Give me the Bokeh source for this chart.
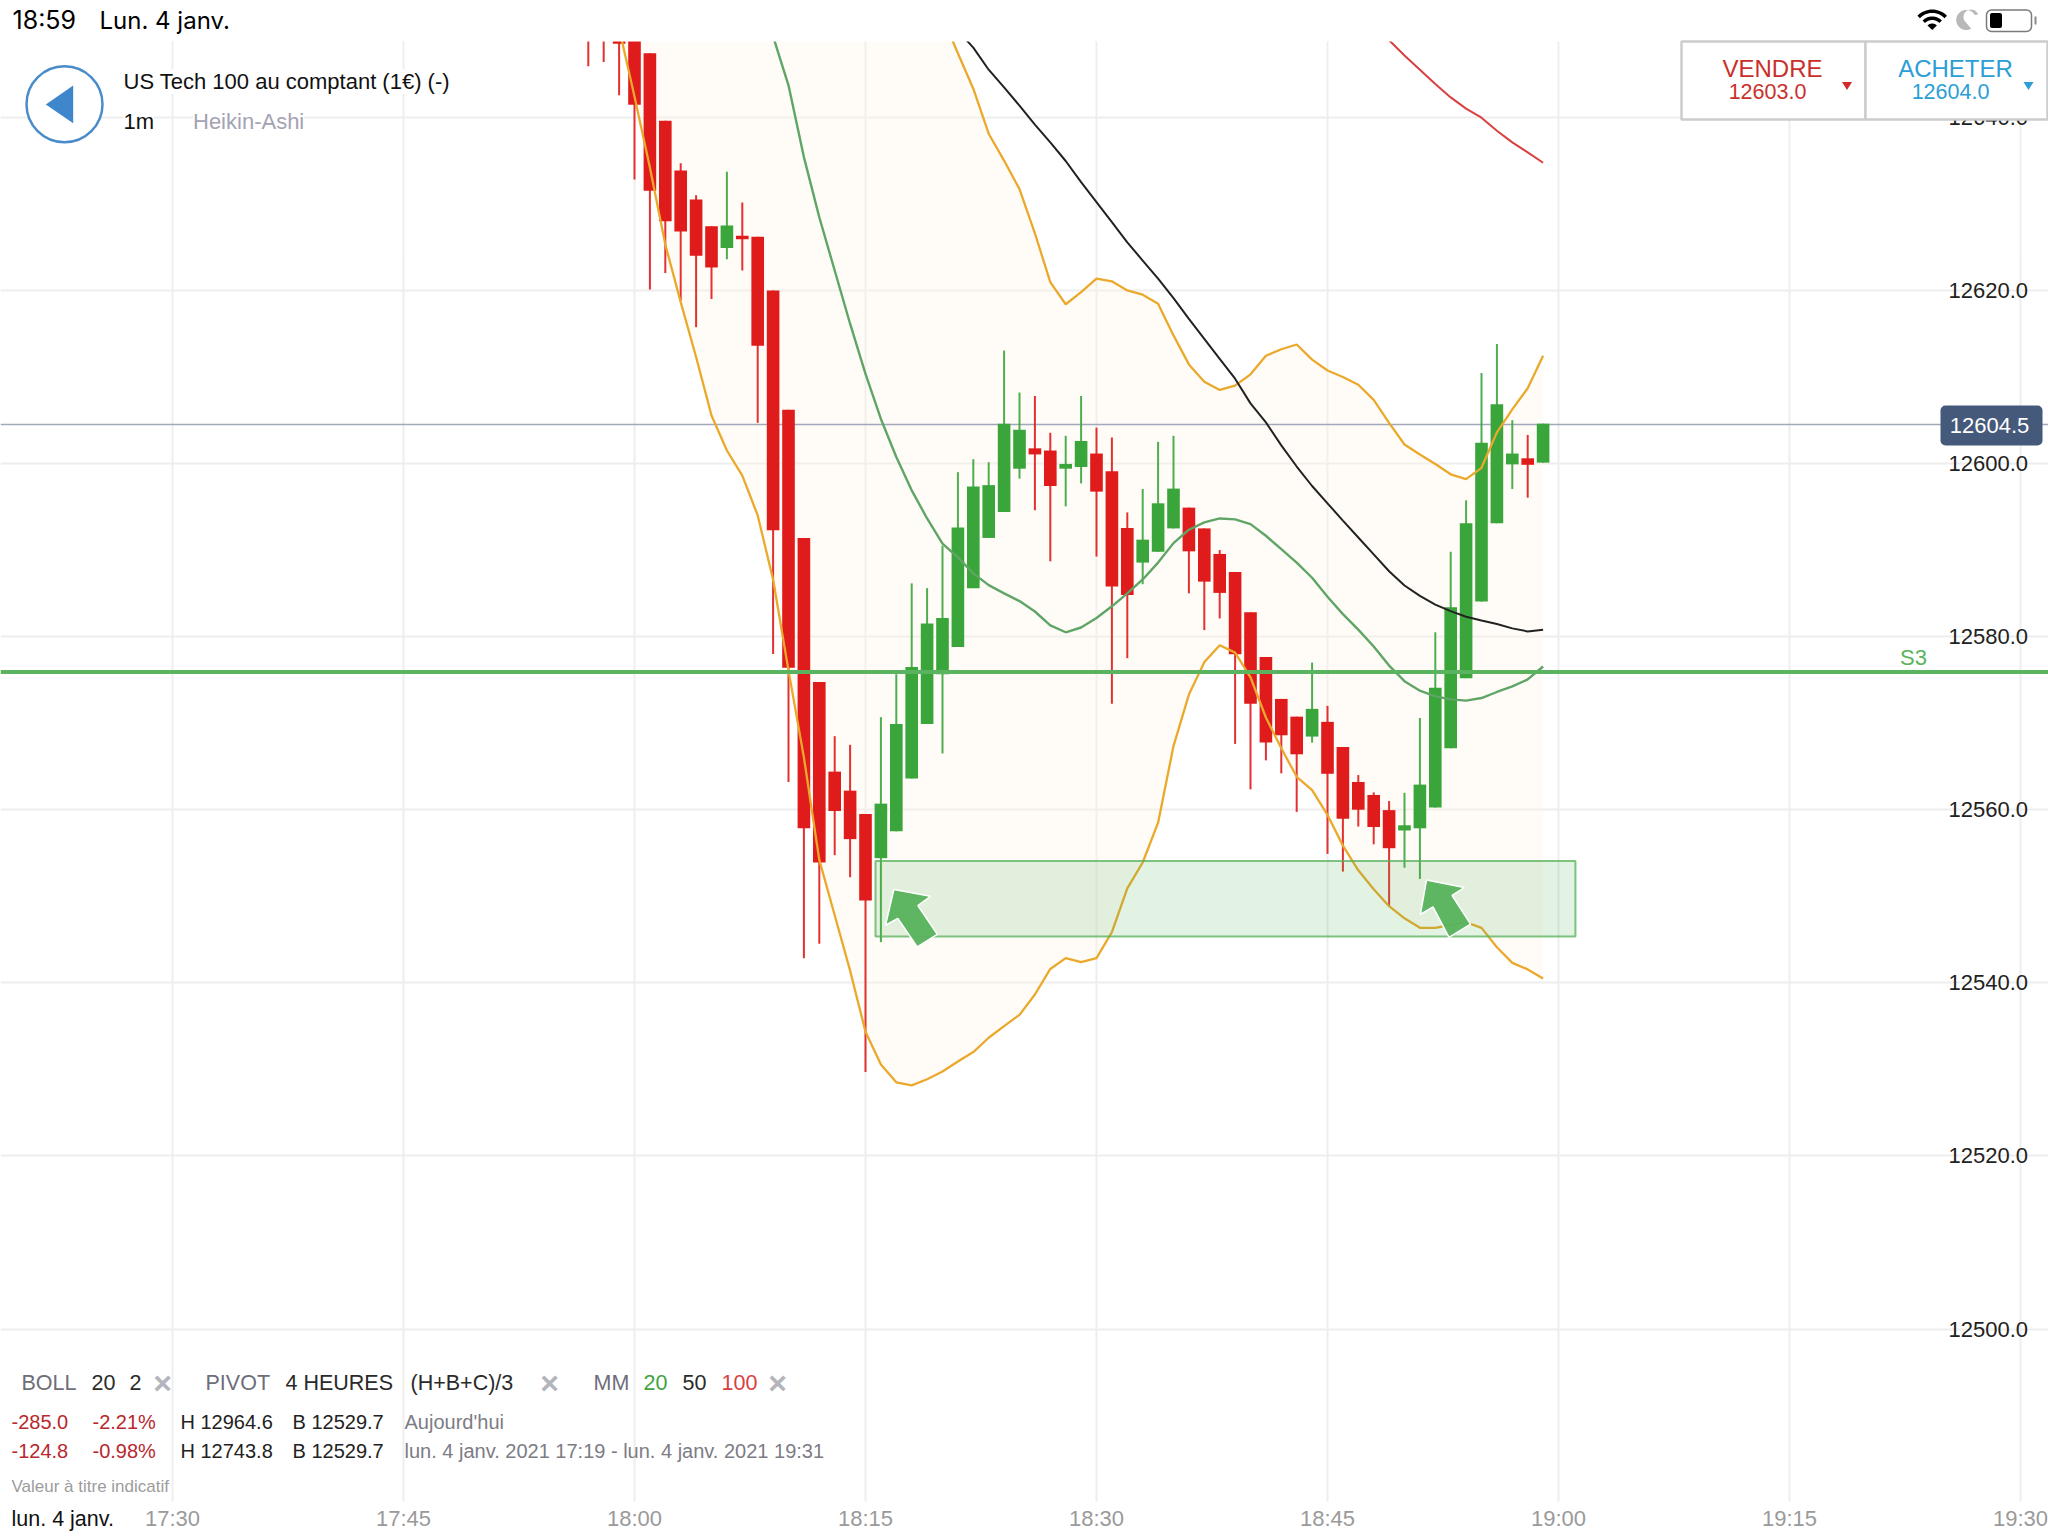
import math
from bokeh.plotting import figure
from bokeh.embed import file_html
from bokeh.resources import INLINE
from bokeh.models import Range1d, Label, BoxAnnotation, PolyAnnotation, FixedTicker, NumeralTickFormatter, LinearAxis

# ---------- data ----------
minutes = list(range(1077, 1140))   # 17:57 .. 18:59

heikin_open = [12652,12652,12650,12652,12647.4,12639.6,12633.85,12630.5,12627.4,12624.9,12626.3,12626.2,12620,12606.2,12591.4,12574.75,
 12564.4,12562.2,12559.5,12554.4,12557.5,12563.6,12569.9,12575.65,12578.8,12585.6,12591.4,12594.4,12599.4,12601.75,12601.5,12599.4,12599.6,
 12601.15,12599.1,12592.55,12588.55,12589.8,12592.5,12594.9,12592.5,12589.55,12587.45,12582.8,12577.65,12572.8,12570.75,12568.45,12570.15,
 12567.25,12563.2,12561.7,12559.95,12557.6,12557.85,12560.25,12567.1,12575.2,12584.05,12593.1,12599.9,12600.6,12600.1]
heikin_close = [12650,12650,12648.5,12641.45,12631.5,12628,12626.8,12624,12622.65,12627.5,12625.9,12613.6,12592.3,12576.4,12557.85,12553.9,
 12559.85,12556.6,12549.5,12560.7,12569.9,12576.5,12581.5,12582.15,12592.6,12597.35,12597.5,12604.6,12603.9,12601.05,12597.4,12599.95,12602.6,
 12596.75,12585.8,12584.8,12591.2,12595.4,12597.1,12589.85,12586.35,12585.05,12577.95,12572.25,12567.75,12568.6,12566.4,12571.65,12564.15,
 12558.95,12560,12558,12555.55,12558.2,12562.9,12574.1,12583.4,12593.1,12602.4,12606.85,12601.15,12599.85,12604.6]
heikin_high = [12652.5,12652.5,12651,12652.5,12647.4,12639.6,12634.7,12631,12627.4,12633.7,12630.15,12626.2,12620,12606.2,12591.4,12574.75,
 12568.5,12567.5,12559.5,12570.7,12575.65,12586.15,12585.6,12590.5,12599,12600.5,12600.15,12613.05,12608.2,12607.8,12603.55,12603.2,12607.8,
 12604.15,12603,12594.35,12597.05,12602.5,12603.2,12594.9,12592.5,12590,12587.45,12582.8,12577.65,12572.8,12570.75,12577,12572,
 12567.25,12564,12562,12561,12561.95,12570.6,12580.5,12589.8,12595.75,12610.45,12613.8,12605,12603.3,12604.6]
heikin_low = [12645.9,12646.4,12642.55,12632.8,12620.1,12622,12618.8,12615.75,12619,12623.6,12622.3,12604.7,12578,12563.2,12542.85,12544.5,
 12554.75,12552.2,12529.7,12544.7,12557.5,12563.6,12569.9,12566.5,12578.8,12585.6,12591.4,12594.4,12598.25,12594.6,12588.7,12595.05,12597.7,
 12589.25,12572.25,12577.5,12586.05,12589.8,12592.5,12585,12580.75,12582.1,12567.6,12562.35,12565.7,12564.2,12559.75,12567.75,12554.9,
 12552.85,12558.05,12556,12548.75,12553.3,12552,12560.25,12567.1,12575.2,12584.05,12593.1,12597.05,12596.05,12600.1]

boll_upper = [12652.5,12652.5,12652.5,12652.5,12652.5,12652.5,12652.5,12652.5,12652.5,12652.5,12652.5,12652.5,12652.5,12652.5,12652.5,12652.5,12652.5,12652.5,12652.5,12652.5,12652.5,12651.6,
 12647.4,12643.3,12638.1,12635,12631.7,12626.6,12620.95,12618.4,12619.8,12621.35,12621.05,12620,12619.5,12618.45,12614.8,12611.45,12609.45,12608.5,12609,
 12610.3,12612.45,12613.2,12613.75,12612,12610.75,12610,12609.1,12607.35,12604.7,12602.2,12601.05,12599.95,12598.75,12598.2,12599.5,12603.6,12606.25,12608.7,12612.45]
boll_lower = [12650.3,12642.4,12634.2,12625.3,12618.65,12612.3,12605.55,12601.5,12598.6,12594,12586.6,12576.1,12566.05,12554.2,12547.8,12541.4,12534.35,12530.55,12528.5,12528.15,12528.85,12529.75,
 12530.9,12532,12533.65,12535,12536.3,12538.65,12541.6,12542.85,12542.4,12542.85,12545.85,12550.9,12553.9,12558.5,12567.35,12573.3,12577.05,12579,12578.15,
 12575.3,12570.65,12567.1,12563.8,12562.25,12559.4,12555.85,12553,12550.8,12548.85,12547.45,12546.35,12546.35,12546.7,12547,12546.35,12544.1,12542.3,12541.55,12540.5]
ma_20 = [12649.35,12643.7,12635.4,12628.45,12622.3,12616.15,12610.35,12605.15,12600.75,12596.9,12593.65,12590.75,12589.15,12587.3,12585.95,12585,12584.1,12582.9,12581.3,12580.5,12581.05,
 12582.15,12583.5,12585,12586.6,12588.55,12590.8,12592.35,12593.2,12593.65,12593.55,12593,12591.65,12590.1,12588.55,12586.8,12584.6,12582.6,12580.8,12578.85,12576.65,
 12574.85,12573.75,12573.1,12572.75,12572.6,12572.9,12573.6,12574.25,12575.05,12576.55]
ma_50 = [12650,12648.05,12645.5,12643.45,12641.35,12639.15,12637.1,12634.95,12632.5,12630.2,12627.9,12625.55,12623.45,12621.35,12619.1,12616.7,12614.4,12612.1,12609.8,12606.95,12604.75,
 12602.1,12599.65,12597.4,12595.4,12593.4,12591.45,12589.5,12587.55,12585.9,12584.7,12583.7,12582.95,12582.3,12581.85,12581.45,12580.95,12580.6,12580.8]
ma_100 = [12650.4,12648.9,12647.15,12645.5,12643.85,12642.3,12641,12639.95,12638.45,12637.1,12635.95,12634.75]

last_price = 12604.5
pivot_s3 = 12575.9
zone_left, zone_right, zone_top, zone_bottom = [1095.65], [1141.1], [12554.06], [12545.35]
arrow_1_x = [1096.84,1099.22,1098.4,1099.66,1098.36,1097.1,1096.3]
arrow_1_y = [12550.78,12549.99,12548.93,12545.6,12544.15,12547.43,12546.65]
arrow_2_x = [1131.43,1133.88,1133.09,1134.29,1132.89,1131.85,1131.03]
arrow_2_y = [12551.87,12551.01,12550.09,12546.78,12545.24,12548.77,12547.89]

x_ticks = [1050,1065,1080,1095,1110,1125,1140,1155,1170]
x_tick_labels = ["17:30","17:45","18:00","18:15","18:30","18:45","19:00","19:15","19:30"]
y_ticks = [12500,12520,12540,12560,12580,12600,12620,12640]

# ---------- colours ----------
RED, GREEN = "#e01b1b", "#3aa53a"
ORANGE, MA_GREEN, MA_RED = "#eba92c", "#5fa566", "#d8413f"
SANS = "Liberation Sans"

# reference pixel -> data, for the page furniture
def dx(px): return 1080 + (px - 634) / 15.4
def dy(py): return 12600 - (py - 463) / 8.655

p = figure(width=2048, height=1536, frame_width=2048, frame_height=1536,
           x_range=Range1d(dx(0), dx(2048)), y_range=Range1d(dy(1536), dy(0)),
           output_backend="svg", toolbar_location=None, y_axis_location=None,
           min_border_left=0, min_border_right=0, min_border_top=0, min_border_bottom=0)
p.outline_line_color = None
p.background_fill_color = "white"

# axes
xa = p.xaxis[0]
xa.ticker = FixedTicker(ticks=x_ticks)
xa.major_label_overrides = dict(zip(x_ticks, x_tick_labels))
xa.major_tick_line_color = None
xa.major_tick_out = 0
xa.minor_tick_line_color = None
xa.axis_line_color = None
xa.major_label_text_color = "#9a9a9a"
xa.major_label_text_font = SANS
xa.major_label_text_font_size = "22px"
xa.major_label_standoff = -31

ya = LinearAxis(ticker=FixedTicker(ticks=y_ticks), formatter=NumeralTickFormatter(format="0.0"))
ya.major_tick_line_color = None
ya.major_tick_out = 0
ya.minor_tick_line_color = None
ya.axis_line_color = None
ya.major_label_text_color = "#222222"
ya.major_label_text_font = SANS
ya.major_label_text_font_size = "22px"
ya.major_label_standoff = -100
p.add_layout(ya, "right")

p.xgrid.ticker = FixedTicker(ticks=x_ticks)
p.ygrid.ticker = FixedTicker(ticks=y_ticks)
for g in (p.xgrid[0], p.ygrid[0]):
    g.grid_line_color = "#eeeeee"
    g.grid_line_width = 2

# band and last-price line under the candles
band_x = minutes[-len(boll_upper):]
p.varea(band_x, boll_lower, boll_upper, fill_color="#fff5e8", fill_alpha=0.3)
p.line([dx(0), dx(2048)], [last_price, last_price], line_color="#a0a8ba", line_width=1.5)

# candles
colors = [GREEN if c >= o else RED for o, c in zip(heikin_open, heikin_close)]
p.segment(minutes, heikin_high, minutes, heikin_low, line_color=colors, line_width=2, line_alpha=0.9)
p.vbar(minutes, width=0.82, top=[max(a, b) for a, b in zip(heikin_open, heikin_close)],
       bottom=[min(a, b) for a, b in zip(heikin_open, heikin_close)], fill_color=colors, line_color=None)

# indicators
p.line(band_x, boll_upper, line_color=ORANGE, line_width=2.3)
p.line(band_x, boll_lower, line_color=ORANGE, line_width=2.3)
p.line(minutes[-len(ma_20):], ma_20, line_color=MA_GREEN, line_width=2.4)
p.line(minutes[-len(ma_50):], ma_50, line_color="#222222", line_width=2)
p.line(minutes[-len(ma_100):], ma_100, line_color=MA_RED, line_width=2)

# zone, pivot, arrows
p.quad(left=zone_left, right=zone_right, top=zone_top, bottom=zone_bottom,
       fill_color="#4caf50", fill_alpha=0.16, line_color="#55b05a", line_alpha=0.75, line_width=2)
p.line([dx(0), dx(2048)], [pivot_s3, pivot_s3], line_color="#5ab35e", line_width=4)
for ax, ay in ((arrow_1_x, arrow_1_y), (arrow_2_x, arrow_2_y)):
    p.patch(ax, ay, fill_color="#5ab35e", fill_alpha=0.97, line_color="white", line_width=1.5)

# white bands: status bar above the chart area, time scale below it
p.quad(left=[dx(-20), dx(-20)], right=[dx(2068), dx(2068)], top=[dy(-20), dy(1501)], bottom=[dy(41), dy(1556)],
       fill_color="white", line_color=None)

# ---------- page furniture ----------
def text(s, x, y, size, color="#111111", align="left", font=SANS, style="normal", bg=None):
    lab = Label(x=dx(x), y=dy(y), text=s, text_font=font, text_font_size=f"{size}px", text_color=color,
                text_align=align, text_baseline="middle", text_font_style=style, level="overlay",
                background_fill_color=bg)
    p.add_layout(lab)

def box(left, right, top, bottom, fill="white", line=None, lw=0, radius=0):
    p.add_layout(BoxAnnotation(left=dx(left), right=dx(right), top=dy(top), bottom=dy(bottom),
                               fill_color=fill, fill_alpha=1, line_color=line, line_width=lw, line_alpha=1,
                               border_radius=radius, level="overlay"))

def poly(xs, ys, fill):
    p.add_layout(PolyAnnotation(xs=[dx(a) for a in xs], ys=[dy(b) for b in ys], fill_color=fill, fill_alpha=1,
                                line_color=None, level="overlay"))

def arc_band(cx, cy, r1, r2, half=46):
    angs = [math.radians(-90 - half + 2 * half * i / 16) for i in range(17)]
    xs = [cx + r2 * math.cos(a) for a in angs] + [cx + r1 * math.cos(a) for a in reversed(angs)]
    ys = [cy + r2 * math.sin(a) for a in angs] + [cy + r1 * math.sin(a) for a in reversed(angs)]
    return xs, ys

# status bar
text("18:59", 12, 19.5, 25, "#000000", font="Inter")
text("Lun. 4 janv.", 99, 19.5, 24, "#000000", font="Inter")
for r1, r2 in ((0, 6.5), (10, 13.5), (17, 20.5)):
    poly(*arc_band(1931.7, 29.5, r1, r2), "#000000")
moon_a = [math.radians(60 + 270 * i / 24) for i in range(25)]
moon_b = [math.radians(150 + 190 * i / 16) for i in range(17)]
poly([1965.7 + 10 * math.cos(a) for a in moon_a] + [1970.5 + 7.5 * math.cos(a) for a in moon_b[::-1]],
     [19.5 + 10 * math.sin(a) for a in moon_a] + [16.5 + 7.5 * math.sin(a) for a in moon_b[::-1]], "#b9b9b9")
box(1986, 2031, 9.5, 31, fill="white", line="#7a7a7a", lw=1.5, radius=5)
box(1989.5, 2001.5, 12.5, 27.5, fill="#000000", radius=2)
box(2034, 2036, 16, 24, fill="#8a8a8a")

# back button and instrument
p.scatter([dx(64)], [dy(103.7)], size=76, marker="circle", fill_color="white", line_color="#4a8cc9", line_width=2.5, level="overlay")
p.patch([dx(45.3), dx(72.7), dx(72.7)], [dy(104), dy(85), dy(122.7)], fill_color="#3f87cc", line_color=None, level="overlay")
text("US Tech 100 au comptant (1€) (-)", 123, 81, 22, "#111111", bg="white")
text("1m", 123, 121, 22, "#111111", bg="white")
text("Heikin-Ashi", 192.5, 121, 22, "#a3a3b3", bg="white")

# sell / buy panel
box(1681, 1865, 41, 119, fill="white", line="#cccccc", lw=2.5)
box(1865, 2047, 41, 119, fill="white", line="#cccccc", lw=2.5)
text("VENDRE", 1772, 68, 24, "#c9302c", align="center")
text("12603.0", 1767, 90.5, 21.5, "#c9302c", align="center")
text("ACHETER", 1955, 68, 24, "#2b9ed6", align="center")
text("12604.0", 1950, 90.5, 21.5, "#2b9ed6", align="center")
poly([1841.5, 1851.5, 1846.5], [81.5, 81.5, 89.5], "#d02a2a")
poly([2023, 2033, 2028], [81.5, 81.5, 89.5], "#2b9ed6")

# last price tag and S3
box(1940, 2042, 405, 445, fill="#45597a", radius=5)
text("12604.5", 1989, 425, 22, "#ffffff", align="center")
text("S3", 1913, 657, 22, "#5ab35e", align="center")

# indicators legend
GREY, DARK, CROSS = "#6e6e7a", "#2a2a2a", "#b4b4bc"
ROW = 1382
text("BOLL", 21, ROW, 21.5, GREY)
text("20", 91, ROW, 21.5, DARK)
text("2", 129, ROW, 21.5, DARK)
text("×", 162, ROW, 32, CROSS, align="center", style="bold")
text("PIVOT", 205, ROW, 21.5, GREY)
text("4 HEURES", 285, ROW, 21.5, DARK)
text("(H+B+C)/3", 410, ROW, 21.5, DARK)
text("×", 549, ROW, 32, CROSS, align="center", style="bold")
text("MM", 593, ROW, 21.5, GREY)
text("20", 643, ROW, 21.5, "#3fa33f")
text("50", 682, ROW, 21.5, DARK)
text("100", 721, ROW, 21.5, "#d8413f")
text("×", 777, ROW, 32, CROSS, align="center", style="bold")

DRED, MID = "#b8282e", "#7c7c85"
text("-285.0", 11, 1421.5, 20, DRED)
text("-2.21%", 92, 1421.5, 20, DRED)
text("H 12964.6", 180, 1421.5, 20, "#222222")
text("B 12529.7", 292, 1421.5, 20, "#222222")
text("Aujourd'hui", 404, 1421.5, 20, MID)
text("-124.8", 11, 1450, 20, DRED)
text("-0.98%", 92, 1450, 20, DRED)
text("H 12743.8", 180, 1450, 20, "#222222")
text("B 12529.7", 292, 1450, 20, "#222222")
text("lun. 4 janv. 2021 17:19 - lun. 4 janv. 2021 19:31", 404, 1450, 20, MID)
text("Valeur à titre indicatif", 11, 1486, 17, "#9c9c9c")
text("lun. 4 janv.", 11, 1518, 21.5, "#111111")

open("out.html", "w").write(file_html(p, INLINE))
